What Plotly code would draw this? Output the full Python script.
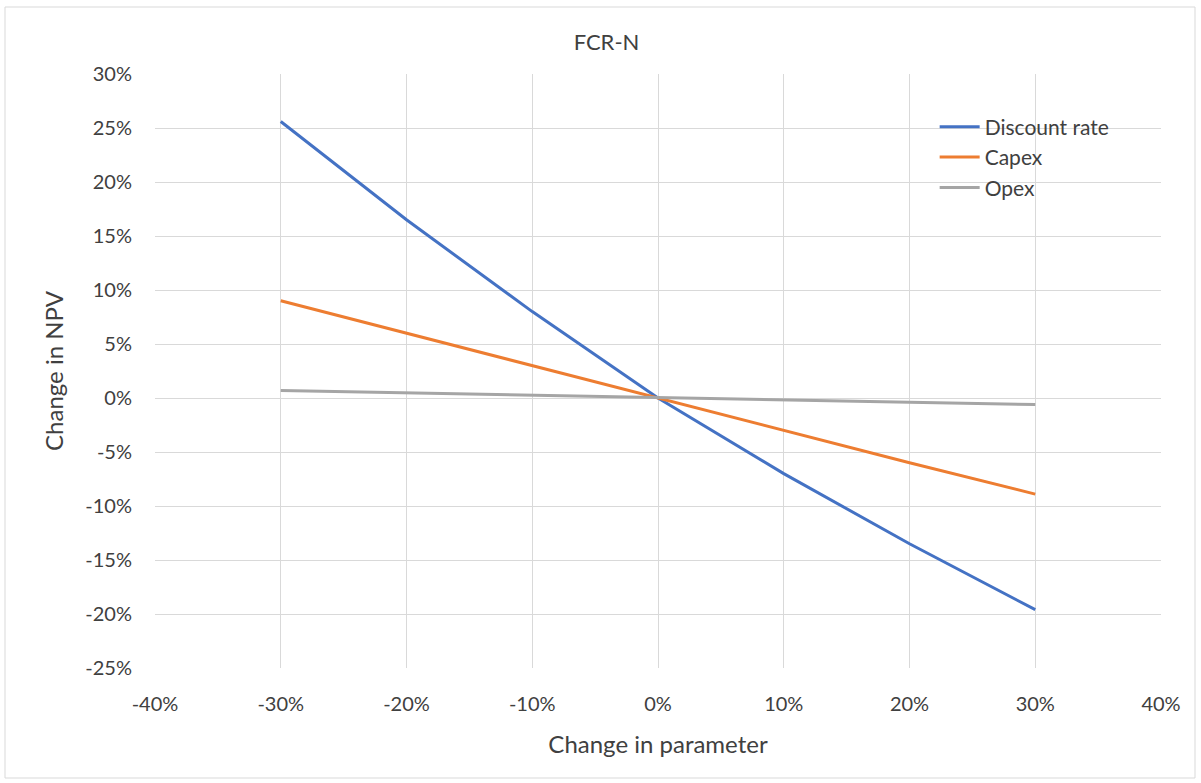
import plotly.graph_objects as go

x_change = [-30, -20, -10, 0, 10, 20, 30]
discount_rate = [25.6, 16.5, 8.0, 0.0, -7.0, -13.5, -19.6]
capex = [9.0, 6.0, 3.0, 0.0, -3.0, -6.0, -8.9]
opex = [0.7, 0.47, 0.23, 0.0, -0.2, -0.4, -0.6]

x_ticks = [-40, -30, -20, -10, 0, 10, 20, 30, 40]
y_ticks = [-25, -20, -15, -10, -5, 0, 5, 10, 15, 20, 25, 30]

FONT = "Lato"
TXT = "#404040"

fig = go.Figure()
for name, vals, col in [("Discount rate", discount_rate, "#4472C4"),
                        ("Capex", capex, "#ED7D31"),
                        ("Opex", opex, "#A5A5A5")]:
    fig.add_trace(go.Scatter(x=x_change, y=vals, mode="lines", name=name,
                             line=dict(color=col, width=3)))

grid = "#D9D9D9"
fig.update_layout(
    width=1201, height=783,
    paper_bgcolor="white", plot_bgcolor="white",
    margin=dict(l=155, r=40, t=74, b=115),
    font=dict(family=FONT, color=TXT, size=20),
    title=dict(text="FCR-N", x=0.505, xref="container", y=1 - 42 / 783,
               yref="container", xanchor="center", yanchor="middle",
               font=dict(size=22, color=TXT, family=FONT)),
    xaxis=dict(range=[-40, 40], tickvals=x_ticks,
               ticktext=[f"{v}%" for v in x_ticks],
               showgrid=True, gridcolor=grid, gridwidth=1,
               zeroline=True, zerolinecolor=grid, zerolinewidth=1,
               showline=False, ticks="", ticklabelstandoff=22,
               tickfont=dict(size=20),
               title=dict(text="Change in parameter", font=dict(size=24, family=FONT, color=TXT), standoff=22)),
    yaxis=dict(range=[-25, 30], tickvals=y_ticks,
               ticktext=[f"{v}%" for v in y_ticks],
               showgrid=True, gridcolor=grid, gridwidth=1,
               zeroline=True, zerolinecolor=grid, zerolinewidth=1,
               showline=False, ticks="", ticklabelstandoff=22,
               tickfont=dict(size=20),
               title=dict(text="Change in NPV", font=dict(size=24, family=FONT, color=TXT), standoff=14)),
    legend=dict(x=0.775, y=0.945, xanchor="left", yanchor="top",
                bgcolor="rgba(0,0,0,0)", font=dict(size=21, family=FONT, color=TXT),
                tracegroupgap=0, itemwidth=40),
    showlegend=True,
)

fig.add_shape(type="rect", xref="paper", yref="paper",
              x0=(5 - 155) / 1006, x1=(1195 - 155) / 1006,
              y0=(668 - 778) / 594, y1=(668 - 7) / 594,
              line=dict(color="#D9D9D9", width=1), layer="below")

fig.write_html("out.html")
